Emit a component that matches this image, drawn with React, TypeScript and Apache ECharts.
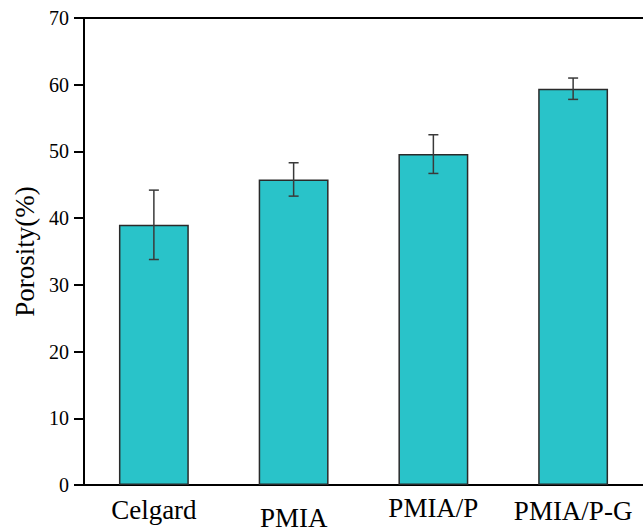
import React, { useEffect, useRef } from "react";
import * as echarts from "echarts";

const categories = ["Celgard", "PMIA", "PMIA/P", "PMIA/P-G"];
const porosity = [39.0, 45.8, 49.6, 59.4];
const errors = [5.2, 2.5, 2.9, 1.6];
const yTicks = { min: 0, max: 70, interval: 10 };
const labelStyles = ["a", "b", "c", "d"];

export default function App() {
  const ref = useRef<HTMLDivElement>(null);
  useEffect(() => {
    if (!ref.current) return;
    const chart = echarts.init(ref.current, null, { renderer: "svg" });
    const font = "Liberation Serif";
    const errData = porosity.map((v, i) => [i, v - errors[i], v + errors[i]]);
    const rs = (pt: number) => ({ fontFamily: font, fontSize: 27, color: "#000", padding: [pt, 0, 0, 0] });
    chart.setOption({
      animation: false,
      backgroundColor: "#ffffff",
      textStyle: { fontFamily: font },
      grid: { left: 84, top: 18, width: 560, height: 467 },
      xAxis: [
        {
          type: "category",
          data: categories,
          axisLine: { lineStyle: { color: "#000", width: 2 } },
          axisTick: { show: false },
          axisLabel: {
            interval: 0,
            hideOverlap: false,
            margin: 11,
            fontFamily: font,
            fontSize: 27,
            color: "#000",
            formatter: (v: string) => {
              const i = categories.indexOf(v);
              return "{" + labelStyles[i] + "|" + v + "}";
            },
            rich: { a: rs(0), b: rs(8), c: rs(-2), d: rs(1) },
          },
        },
        {
          type: "category",
          position: "top",
          data: categories,
          axisLine: { lineStyle: { color: "#000", width: 2 } },
          axisTick: { show: false },
          axisLabel: { show: false },
        },
      ],
      yAxis: {
        type: "value",
        min: yTicks.min,
        max: yTicks.max,
        interval: yTicks.interval,
        name: "Porosity(%)",
        nameLocation: "middle",
        nameGap: 39,
        nameTextStyle: { fontFamily: font, fontSize: 27, color: "#000" },
        splitLine: { show: false },
        axisLine: { show: true, lineStyle: { color: "#000", width: 2 } },
        axisTick: { show: true, inside: false, length: 10, lineStyle: { color: "#000", width: 2 } },
        axisLabel: { fontFamily: font, fontSize: 20, color: "#000", margin: 15 },
      },
      series: [
        {
          type: "bar",
          data: porosity,
          barWidth: "50%",
          itemStyle: { color: "#29C3C9", borderColor: "#2a2a2a", borderWidth: 1.5 },
        },
        {
          type: "custom",
          data: errData,
          z: 10,
          renderItem: (params: any, api: any) => {
            const x = api.value(0);
            const lo = api.coord([x, api.value(1)]);
            const hi = api.coord([x, api.value(2)]);
            const half = 5;
            const style = { stroke: "#3a3a3a", lineWidth: 1.5 };
            return {
              type: "group",
              children: [
                { type: "line", shape: { x1: lo[0], y1: lo[1], x2: hi[0], y2: hi[1] }, style },
                { type: "line", shape: { x1: hi[0] - half, y1: hi[1], x2: hi[0] + half, y2: hi[1] }, style },
                { type: "line", shape: { x1: lo[0] - half, y1: lo[1], x2: lo[0] + half, y2: lo[1] }, style },
              ],
            };
          },
        },
      ],
    });
    return () => chart.dispose();
  }, []);
  return (
    <div
      ref={ref}
      style={{ position: "fixed", left: 0, top: 0, width: 643, height: 531, background: "#fff" }}
    />
  );
}
